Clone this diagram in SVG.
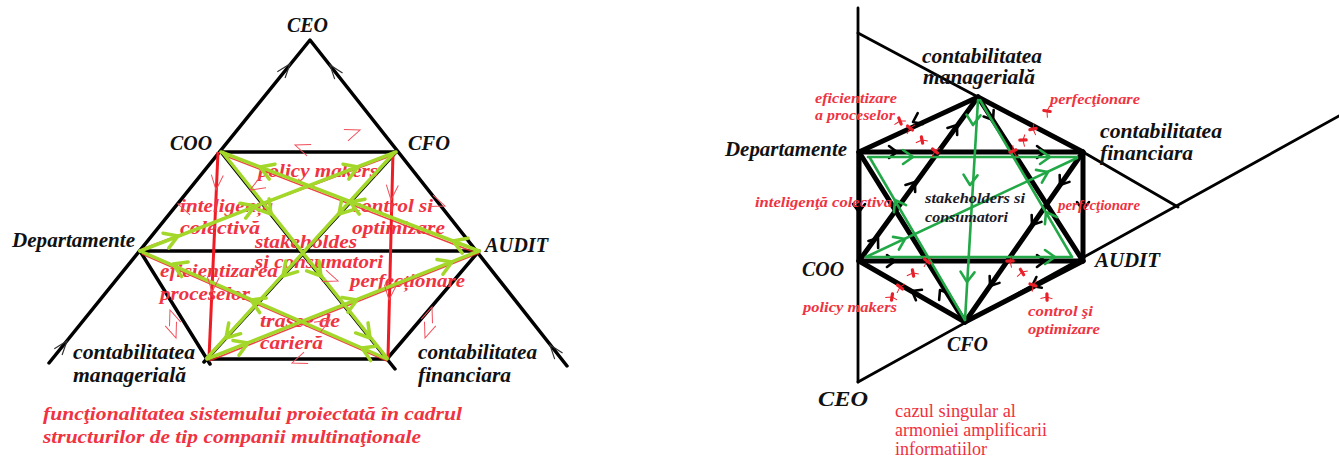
<svg xmlns="http://www.w3.org/2000/svg" width="1339" height="458" viewBox="0 0 1339 458">
<style>
.bk{stroke:#000;stroke-width:3.5;fill:none;stroke-linecap:round;stroke-linejoin:round}
.hx{stroke:#000;stroke-width:5;fill:none;stroke-linejoin:round;stroke-linecap:round}
.fr{stroke:#000;stroke-width:2.8;fill:none;stroke-linecap:round;stroke-linejoin:round}
.lime{stroke:#a3d82a;stroke-width:3.5;fill:none;stroke-linecap:round;stroke-linejoin:round}
.red{stroke:#ee1c24;stroke-width:3;fill:none}
.redl{stroke:#ee1c24;stroke-width:1.6;fill:none;opacity:.85}
.tr{stroke:#f0505c;stroke-width:1;fill:none}
.gy{stroke:#333;stroke-width:1.2;fill:none}
.grn{stroke:#22a846;stroke-width:2.6;fill:none;stroke-linecap:round;stroke-linejoin:round}
.kv{stroke:#000;stroke-width:2.6;fill:none;stroke-linecap:round;stroke-linejoin:round}
.rm{stroke:#e8202a;stroke-width:3.2;fill:none;stroke-linecap:round}
.rmt{stroke:#e8202a;stroke-width:1;fill:none}
.lbl{font-family:"Liberation Serif","Times New Roman",serif;font-weight:bold;font-style:italic;font-size:20px;fill:#111}
.rl{font-family:"Liberation Serif","Times New Roman",serif;font-weight:bold;font-style:italic;font-size:18px;fill:#ef3342}
.rc{font-family:"Liberation Serif","Times New Roman",serif;font-weight:bold;font-style:italic;font-size:19px;fill:#ef3342}
.rs{font-family:"Liberation Serif","Times New Roman",serif;font-weight:bold;font-style:italic;font-size:14px;fill:#ef3342}
.bs{font-family:"Liberation Serif","Times New Roman",serif;font-weight:bold;font-style:italic;font-size:15px;fill:#1a1a2a}
.cap{font-family:"Liberation Serif","Times New Roman",serif;font-size:18px;fill:#f0303e}
</style>
<defs>
  <path id="gv" class="lime" d="M-13,-8 L0,0 L-13,8"/>
  <path id="rv" class="tr" d="M-15,-6 L0,0 L-15,6"/>
  <path id="av" class="gy" d="M-14,-5 L0,0 L-14,5"/>
  <path id="kc" class="kv" d="M-8,-6 L0,0 L-8,6"/>
  <path id="gc" class="grn" d="M-10,-7 L0,0 L-10,7"/>
  <g id="mk">
    <path class="rm" d="M-2.5,-2 L2.5,2"/>
    <path class="rmt" d="M0,0 L-3,6 M0,0 L5,-3"/>
  </g>
</defs>

<!-- ============ left: multinational structure ============ -->
<g id="left-frame">
  <polyline class="bk" points="49,363 310,40 567,366"/>
  <line class="bk" x1="221" y1="152" x2="396" y2="152"/>
  <line class="bk" x1="140" y1="251" x2="479" y2="251"/>
  <line class="bk" x1="140" y1="251" x2="210" y2="364"/>
  <line class="bk" x1="479" y1="251" x2="387" y2="359"/>
  <line class="bk" x1="207" y1="359" x2="387" y2="359"/>
  <line class="bk" x1="221" y1="152" x2="395" y2="369"/>
  <line class="bk" x1="396" y1="152" x2="204" y2="362"/>
  <!-- thin direction ticks on the outer triangle -->
  <use href="#av" transform="translate(290,64) rotate(-51)"/>
  <use href="#av" transform="translate(67,341) rotate(-51)"/>
  <use href="#av" transform="translate(330,65) rotate(-128)"/>
  <use href="#av" transform="translate(550,345) rotate(-128)"/>
</g>

<g id="left-verticals">
  <line class="red" x1="218" y1="152" x2="209" y2="358"/>
  <line class="red" x1="393" y1="152" x2="388" y2="358"/>
  <!-- red traces beneath the flows -->
  <line class="redl" x1="223" y1="155" x2="479" y2="254"/>
  <line class="redl" x1="142" y1="254" x2="387" y2="361"/>
  <line class="redl" x1="209" y1="361" x2="479" y2="253"/>
  <line class="redl" x1="142" y1="249" x2="396" y2="154"/>
</g>

<g id="left-edge-labels">
  <text class="rl" x="258" y="177" textLength="120" lengthAdjust="spacingAndGlyphs">policy makers</text>
  <text class="rl" x="180" y="212" textLength="93" lengthAdjust="spacingAndGlyphs">inteligența</text>
  <text class="rl" x="180" y="234" textLength="80" lengthAdjust="spacingAndGlyphs">colectivă</text>
  <text class="rl" x="352" y="212" textLength="81" lengthAdjust="spacingAndGlyphs">control si</text>
  <text class="rl" x="352" y="234" textLength="93" lengthAdjust="spacingAndGlyphs">optimizare</text>
  <text class="rl" x="255" y="248" textLength="102" lengthAdjust="spacingAndGlyphs">stakeholdes</text>
  <text class="rl" x="255" y="268" textLength="128" lengthAdjust="spacingAndGlyphs">si consumatori</text>
  <text class="rl" x="160" y="277" textLength="118" lengthAdjust="spacingAndGlyphs">eficientizarea</text>
  <text class="rl" x="160" y="300" textLength="90" lengthAdjust="spacingAndGlyphs">proceselor</text>
  <text class="rl" x="350" y="287" textLength="115" lengthAdjust="spacingAndGlyphs">perfecționare</text>
  <text class="rl" x="260" y="327" textLength="80" lengthAdjust="spacingAndGlyphs">trasee de</text>
  <text class="rl" x="260" y="349" textLength="63" lengthAdjust="spacingAndGlyphs">carieră</text>
</g>

<g id="left-flows">
  <line class="lime" x1="140" y1="251" x2="396" y2="152"/>
  <line class="lime" x1="479" y1="251" x2="221" y2="152"/>
  <line class="lime" x1="207" y1="359" x2="479" y2="251"/>
  <line class="lime" x1="387" y1="359" x2="140" y2="251"/>
  <line class="lime" x1="223" y1="153" x2="387" y2="358"/>
  <line class="lime" x1="394" y1="153" x2="207" y2="358"/>
  <use href="#gv" transform="translate(178,236) rotate(-21)"/>
  <use href="#gv" transform="translate(255,206) rotate(-21)"/>
  <use href="#gv" transform="translate(358,167) rotate(-21)"/>
  <use href="#gv" transform="translate(453,241) rotate(201)"/>
  <use href="#gv" transform="translate(350,202) rotate(201)"/>
  <use href="#gv" transform="translate(260,167) rotate(201)"/>
  <use href="#gv" transform="translate(248,343) rotate(-22)"/>
  <use href="#gv" transform="translate(357,300) rotate(-22)"/>
  <use href="#gv" transform="translate(452,262) rotate(-22)"/>
  <use href="#gv" transform="translate(362,348) rotate(204)"/>
  <use href="#gv" transform="translate(251,300) rotate(204)"/>
  <use href="#gv" transform="translate(173,264) rotate(204)"/>
  <use href="#gv" transform="translate(271,214) rotate(51)"/>
  <use href="#gv" transform="translate(321,276) rotate(51)"/>
  <use href="#gv" transform="translate(370,338) rotate(51)"/>
  <use href="#gv" transform="translate(339,214) rotate(132)"/>
  <use href="#gv" transform="translate(283,276) rotate(132)"/>
  <use href="#gv" transform="translate(226,338) rotate(132)"/>
</g>

<g id="left-ticks">
  <use href="#rv" transform="translate(295,145) rotate(200)"/>
  <use href="#rv" transform="translate(216,190) rotate(95)"/>
  <use href="#rv" transform="translate(212,292) rotate(95)"/>
  <use href="#rv" transform="translate(391,200) rotate(95)"/>
  <use href="#rv" transform="translate(389,300) rotate(95)"/>
  <use href="#rv" transform="translate(178,204) rotate(200)"/>
  <use href="#rv" transform="translate(445,206) rotate(20)"/>
  <use href="#rv" transform="translate(170,310) rotate(250)"/>
  <use href="#rv" transform="translate(432,307) rotate(-70)"/>
  <use href="#rv" transform="translate(338,281) rotate(20)"/>
  <use href="#rv" transform="translate(292,363) rotate(160)"/>
  <use href="#rv" transform="translate(176,338) rotate(70)"/>
  <use href="#rv" transform="translate(425,338) rotate(110)"/>
  <use href="#rv" transform="translate(250,190) rotate(150)"/>
  <use href="#rv" transform="translate(360,130) rotate(-20)"/>
  <use href="#rv" transform="translate(330,320) rotate(-30)"/>
</g>

<g id="node-ceo-l"><text class="lbl" x="287" y="32" textLength="41" lengthAdjust="spacingAndGlyphs">CEO</text></g>
<g id="node-coo-l"><text class="lbl" x="170" y="150" textLength="42" lengthAdjust="spacingAndGlyphs">COO</text></g>
<g id="node-cfo-l"><text class="lbl" x="408" y="150" textLength="42" lengthAdjust="spacingAndGlyphs">CFO</text></g>
<g id="node-dept-l"><text class="lbl" x="12" y="247" textLength="123" lengthAdjust="spacingAndGlyphs">Departamente</text></g>
<g id="node-audit-l"><text class="lbl" x="485" y="252" textLength="63" lengthAdjust="spacingAndGlyphs">AUDIT</text></g>
<g id="node-cman-l">
  <text class="lbl" x="73" y="359" textLength="122" lengthAdjust="spacingAndGlyphs">contabilitatea</text>
  <text class="lbl" x="73" y="382" textLength="113" lengthAdjust="spacingAndGlyphs">managerială</text>
</g>
<g id="node-cfin-l">
  <text class="lbl" x="418" y="359" textLength="119" lengthAdjust="spacingAndGlyphs">contabilitatea</text>
  <text class="lbl" x="418" y="382" textLength="93" lengthAdjust="spacingAndGlyphs">financiara</text>
</g>
<g id="caption-left">
  <text class="rc" x="43" y="420" textLength="419" lengthAdjust="spacingAndGlyphs">funcţionalitatea sistemului proiectată în cadrul</text>
  <text class="rc" x="43" y="443" textLength="378" lengthAdjust="spacingAndGlyphs">structurilor de tip companii multinaţionale</text>
</g>

<!-- ============ right: singular harmony case ============ -->
<g id="right-frame">
  <line class="fr" x1="858" y1="8" x2="858" y2="382"/>
  <polyline class="fr" points="858,33 978,97 1083,152 1178,207"/>
  <line class="fr" x1="858" y1="382" x2="1339" y2="116"/>
</g>

<g id="right-connectors">
  <path class="hx" d="M978,97 L859,152 L859,261 L965,322 L1083,261 L1083,152 Z"/>
  <line class="hx" x1="859" y1="152" x2="1083" y2="152"/>
  <line class="hx" x1="859" y1="261" x2="1083" y2="261"/>
  <line class="hx" x1="978" y1="97" x2="859" y2="261"/>
  <line class="hx" x1="978" y1="97" x2="1083" y2="261"/>
  <line class="hx" x1="859" y1="152" x2="965" y2="322"/>
  <line class="hx" x1="1083" y1="152" x2="965" y2="322"/>
  <use href="#kc" transform="translate(913,122) rotate(155)"/>
  <use href="#kc" transform="translate(897,152)"/>
  <use href="#kc" transform="translate(1045,152)"/>
  <use href="#kc" transform="translate(957,125) rotate(-54)"/>
  <use href="#kc" transform="translate(915,182) rotate(-54)"/>
  <use href="#kc" transform="translate(878,238) rotate(-54)"/>
  <use href="#kc" transform="translate(859,212) rotate(90)"/>
  <use href="#kc" transform="translate(1083,210) rotate(90)"/>
  <use href="#kc" transform="translate(1060,185) rotate(125)"/>
  <use href="#kc" transform="translate(1032,225) rotate(125)"/>
  <use href="#kc" transform="translate(895,261)"/>
  <use href="#kc" transform="translate(1045,261)"/>
  <use href="#kc" transform="translate(912,291) rotate(-150)"/>
  <use href="#kc" transform="translate(940,290) rotate(-122)"/>
  <use href="#kc" transform="translate(990,286) rotate(125)"/>
  <use href="#kc" transform="translate(1032,286) rotate(153)"/>
  <use href="#kc" transform="translate(993,120) rotate(57)"/>
</g>

<g id="right-flows">
  <line class="grn" x1="868" y1="157" x2="1077" y2="157"/>
  <line class="grn" x1="866" y1="257" x2="1072" y2="257"/>
  <line class="grn" x1="978" y1="100" x2="965" y2="320"/>
  <line class="grn" x1="870" y1="158" x2="965" y2="320"/>
  <line class="grn" x1="980" y1="100" x2="1072" y2="257"/>
  <line class="grn" x1="1077" y1="158" x2="866" y2="257"/>
  <use href="#gc" transform="translate(913,157)"/>
  <use href="#gc" transform="translate(1050,157)"/>
  <use href="#gc" transform="translate(1055,257)"/>
  <use href="#gc" transform="translate(973,125) rotate(93)"/>
  <use href="#gc" transform="translate(970,185) rotate(93)"/>
  <use href="#gc" transform="translate(967,282) rotate(93)"/>
  <use href="#gc" transform="translate(895,200) rotate(240)"/>
  <use href="#gc" transform="translate(1046,212) rotate(240)"/>
  <use href="#gc" transform="translate(1048,172) rotate(-25)"/>
  <use href="#gc" transform="translate(905,239) rotate(-25)"/>
</g>

<g id="right-markers">
  <use href="#mk" transform="translate(900,121) rotate(30)"/>
  <use href="#mk" transform="translate(910,128)"/>
  <use href="#mk" transform="translate(922,140) rotate(40)"/>
  <use href="#mk" transform="translate(935,151)"/>
  <use href="#mk" transform="translate(1013,151) rotate(-60)"/>
  <use href="#mk" transform="translate(1023,140) rotate(-40)"/>
  <use href="#mk" transform="translate(1033,129) rotate(-50)"/>
  <use href="#mk" transform="translate(1047,111) rotate(-30)"/>
  <use href="#mk" transform="translate(892,297) rotate(60)"/>
  <use href="#mk" transform="translate(900,287)"/>
  <use href="#mk" transform="translate(913,273) rotate(40)"/>
  <use href="#mk" transform="translate(927,261)"/>
  <use href="#mk" transform="translate(1010,261) rotate(-40)"/>
  <use href="#mk" transform="translate(1022,272) rotate(20)"/>
  <use href="#mk" transform="translate(1033,285) rotate(-20)"/>
  <use href="#mk" transform="translate(1047,297) rotate(50)"/>
</g>

<g id="right-edge-labels">
  <text class="rs" x="815" y="103" textLength="82" lengthAdjust="spacingAndGlyphs">eficientizare</text>
  <text class="rs" x="815" y="120" textLength="80" lengthAdjust="spacingAndGlyphs">a proceselor</text>
  <text class="rs" x="1050" y="104" textLength="90" lengthAdjust="spacingAndGlyphs">perfecţionare</text>
  <text class="rs" x="755" y="207" textLength="137" lengthAdjust="spacingAndGlyphs">inteligenţă colectiva</text>
  <text class="rs" x="1058" y="210" textLength="82" lengthAdjust="spacingAndGlyphs">perfecţionare</text>
  <text class="rs" x="803" y="312" textLength="94" lengthAdjust="spacingAndGlyphs">policy makers</text>
  <text class="rs" x="1028" y="316" textLength="65" lengthAdjust="spacingAndGlyphs">control şi</text>
  <text class="rs" x="1028" y="334" textLength="72" lengthAdjust="spacingAndGlyphs">optimizare</text>
</g>

<g id="node-center-r">
  <text class="bs" x="925" y="203" textLength="100" lengthAdjust="spacingAndGlyphs">stakeholders si</text>
  <text class="bs" x="925" y="222" textLength="83" lengthAdjust="spacingAndGlyphs">consumatori</text>
</g>
<g id="node-cman-r">
  <text class="lbl" x="922" y="63" textLength="120" lengthAdjust="spacingAndGlyphs">contabilitatea</text>
  <text class="lbl" x="923" y="84" textLength="112" lengthAdjust="spacingAndGlyphs">managerială</text>
</g>
<g id="node-dept-r"><text class="lbl" x="725" y="156" textLength="122" lengthAdjust="spacingAndGlyphs">Departamente</text></g>
<g id="node-cfin-r">
  <text class="lbl" x="1100" y="138" textLength="122" lengthAdjust="spacingAndGlyphs">contabilitatea</text>
  <text class="lbl" x="1100" y="160" textLength="93" lengthAdjust="spacingAndGlyphs">financiara</text>
</g>
<g id="node-coo-r"><text class="lbl" x="802" y="276" textLength="42" lengthAdjust="spacingAndGlyphs">COO</text></g>
<g id="node-audit-r"><text class="lbl" x="1095" y="267" textLength="65" lengthAdjust="spacingAndGlyphs">AUDIT</text></g>
<g id="node-cfo-r"><text class="lbl" x="947" y="351" textLength="41" lengthAdjust="spacingAndGlyphs">CFO</text></g>
<g id="node-ceo-r"><text class="lbl" x="818" y="406" font-size="24" textLength="50" lengthAdjust="spacingAndGlyphs">CEO</text></g>
<g id="caption-right">
  <text class="cap" x="895" y="417" textLength="121" lengthAdjust="spacingAndGlyphs">cazul singular al</text>
  <text class="cap" x="895" y="436" textLength="152" lengthAdjust="spacingAndGlyphs">armoniei amplificarii</text>
  <text class="cap" x="895" y="455" textLength="92" lengthAdjust="spacingAndGlyphs">informatiilor</text>
</g>
</svg>
